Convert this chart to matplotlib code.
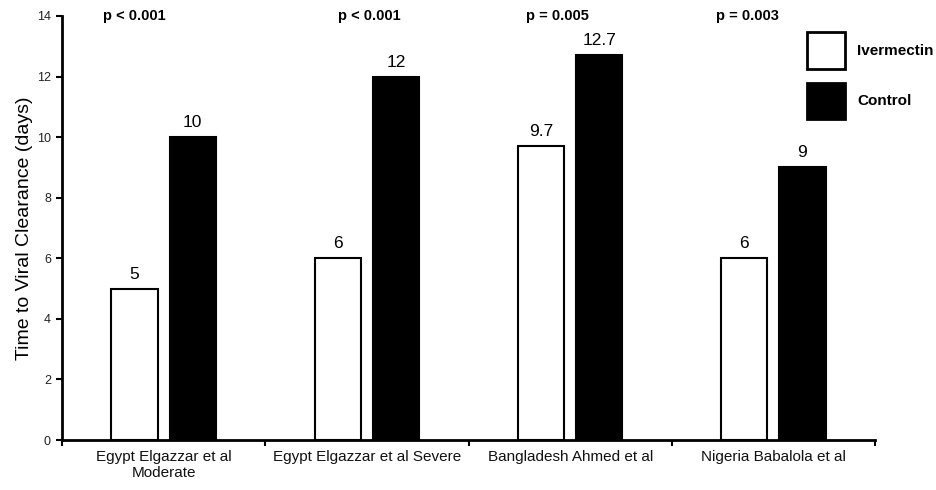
import matplotlib
matplotlib.use("Agg")
import matplotlib.pyplot as plt
import numpy as np
from matplotlib.patches import Patch

plt.rcParams['font.family'] = ['Liberation Sans', 'DejaVu Sans']

categories = ["Egypt Elgazzar et al\nModerate", "Egypt Elgazzar et al Severe",
              "Bangladesh Ahmed et al", "Nigeria Babalola et al"]
ivermectin = [5, 6, 9.7, 6]
control = [10, 12, 12.7, 9]
ivermectin_labels = ["5", "6", "9.7", "6"]
control_labels = ["10", "12", "12.7", "9"]
p_values = ["p < 0.001", "p < 0.001", "p = 0.005", "p = 0.003"]
p_offsets = [-0.143, 0.01, -0.062, -0.126]
yticks = [0, 2, 4, 6, 8, 10, 12, 14]

fig = plt.figure(figsize=(9.36, 4.9), dpi=100)
ax = fig.add_axes([62/936, 1-440/490, (875-62)/936, (440-16)/490])

x = np.arange(len(categories))
w = 0.227
off = 0.143
b1 = ax.bar(x - off, ivermectin, w, color='white', edgecolor='black', linewidth=1.5, label='Ivermectin', zorder=3)
b2 = ax.bar(x + off, control, w, color='black', edgecolor='black', linewidth=1.5, label='Control', zorder=3)
ax.bar_label(b1, labels=ivermectin_labels, padding=5, fontsize=12.5)
ax.bar_label(b2, labels=control_labels, padding=5, fontsize=12.5)

for xi, p, po in zip(x, p_values, p_offsets):
    ax.text(xi + po, 14, p, ha='center', va='center', fontsize=10.5, fontweight='bold')

ax.set_xlim(-0.5, len(categories) - 0.5)
ax.set_ylim(0, 14)
ax.set_yticks(yticks)
ax.set_yticklabels([str(t) for t in yticks], fontsize=9, color='#222222')
ax.set_xticks(x)
ax.set_xticklabels(categories, fontsize=11, color='#111111')
ax.tick_params(axis='x', which='major', length=0, pad=7)
ax.set_xticks(np.arange(-0.5, len(categories)), minor=True)
ax.tick_params(axis='x', which='minor', length=4, width=1.5, direction='out')
ax.tick_params(axis='y', length=4, width=1.5, direction='out', pad=4)
ax.set_ylabel("Time to Viral Clearance (days)", fontsize=14, labelpad=3)

for s in ['top', 'right']:
    ax.spines[s].set_visible(False)
for s in ['left', 'bottom']:
    ax.spines[s].set_linewidth(2)

handles = [Patch(facecolor='white', edgecolor='black', linewidth=2),
           Patch(facecolor='black', edgecolor='black', linewidth=2)]
leg = ax.legend(handles, ['Ivermectin', 'Control'], loc='upper left',
                bbox_to_anchor=(807/936, 1-32/490), bbox_transform=fig.transFigure,
                frameon=False, handlelength=2.5, handleheight=3.3,
                labelspacing=0.92, handletextpad=0.8, borderaxespad=0, borderpad=0,
                prop={'weight': 'bold', 'size': 11})

fig.savefig("out.png", dpi=100)
